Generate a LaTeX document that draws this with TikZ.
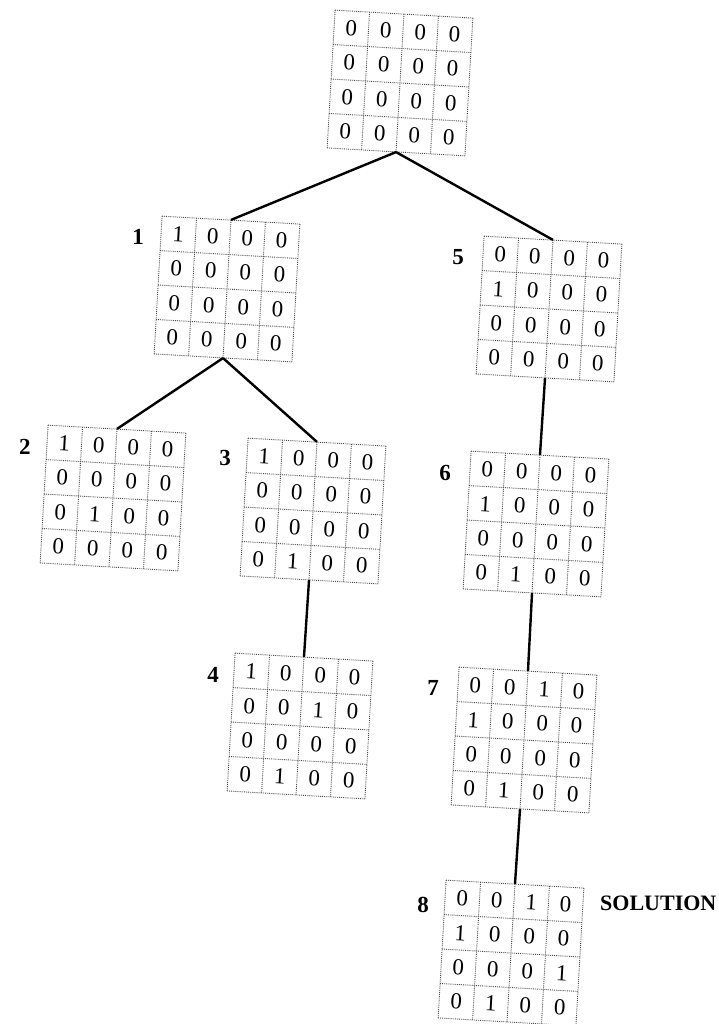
\documentclass[tikz,border=0pt]{standalone}
\usepackage{fontspec}
\setmainfont{Liberation Serif}
\tikzset{
  gridbox/.style={minimum size=138pt, inner sep=0pt, rotate=-3.3},
  cellrule/.style={densely dotted, line width=0.9pt, black!70},
  entry/.style={inner sep=0pt, font=\fontsize{23}{23}\selectfont, rotate=-3.3},
  lbl/.style={inner sep=0pt, font=\fontsize{23}{23}\selectfont\bfseries},
  link/.style={line width=2.4pt, black},
}
% a 4x4 board: name, centre, sixteen entries row by row
\newcommand\boardat[3]{%
  \node[gridbox] (#1) at (#2) {};
  \begin{scope}[shift={(#1.center)}, rotate=-3.3]
    \foreach \k in {0,...,4} {
      \draw[cellrule] (-69+34.5*\k, -69) -- (-69+34.5*\k, 69);
      \draw[cellrule] (-69, -69+34.5*\k) -- (69, -69+34.5*\k);
    }
    \foreach \v [count=\i from 0] in {#3} {
      \pgfmathtruncatemacro\rr{div(\i,4)}
      \pgfmathtruncatemacro\cc{mod(\i,4)}
      \node[entry] (#1-\i) at (-51.75+34.5*\cc, -51.75+34.5*\rr) {\v};
    }
  \end{scope}
}
\begin{document}
\begin{tikzpicture}[x=1pt, y=-1pt]
  \fill[white] (0,0) rectangle (719,1024);
  \useasboundingbox (0,0) rectangle (719,1024);

  \boardat{root}{400,83}{0,0,0,0, 0,0,0,0, 0,0,0,0, 0,0,0,0}
  \boardat{b1}{227,289}{1,0,0,0, 0,0,0,0, 0,0,0,0, 0,0,0,0}
  \boardat{b5}{549,309}{0,0,0,0, 1,0,0,0, 0,0,0,0, 0,0,0,0}
  \boardat{b2}{113,498}{1,0,0,0, 0,0,0,0, 0,1,0,0, 0,0,0,0}
  \boardat{b3}{313,511}{1,0,0,0, 0,0,0,0, 0,0,0,0, 0,1,0,0}
  \boardat{b6}{536,524}{0,0,0,0, 1,0,0,0, 0,0,0,0, 0,1,0,0}
  \boardat{b4}{300,726}{1,0,0,0, 0,0,1,0, 0,0,0,0, 0,1,0,0}
  \boardat{b7}{524,740}{0,0,1,0, 1,0,0,0, 0,0,0,0, 0,1,0,0}
  \boardat{b8}{511,953}{0,0,1,0, 1,0,0,0, 0,0,0,1, 0,1,0,0}

  % step numbers
  \node[lbl] (n1) at (138,237) {1};
  \node[lbl] (n5) at (458,257) {5};
  \node[lbl] (n2) at (25,447) {2};
  \node[lbl] (n3) at (225,458) {3};
  \node[lbl] (n6) at (445,473) {6};
  \node[lbl] (n4) at (213,675) {4};
  \node[lbl] (n7) at (433,688) {7};
  \node[lbl] (n8) at (423,905) {8};
  \node[lbl, font=\fontsize{22}{22}\selectfont\bfseries, anchor=west] (sol) at (600,903) {SOLUTION};

  % search tree edges
  \draw[link] (root.south) -- (b1.north);
  \draw[link] (root.south) -- (b5.north);
  \draw[link] (b1.south) -- (b2.north);
  \draw[link] (b1.south) -- (b3.north);
  \draw[link] (b3.south) -- (b4.north);
  \draw[link] (b5.south) -- (b6.north);
  \draw[link] (b6.south) -- (b7.north);
  \draw[link] (b7.south) -- (b8.north);
\end{tikzpicture}
\end{document}
